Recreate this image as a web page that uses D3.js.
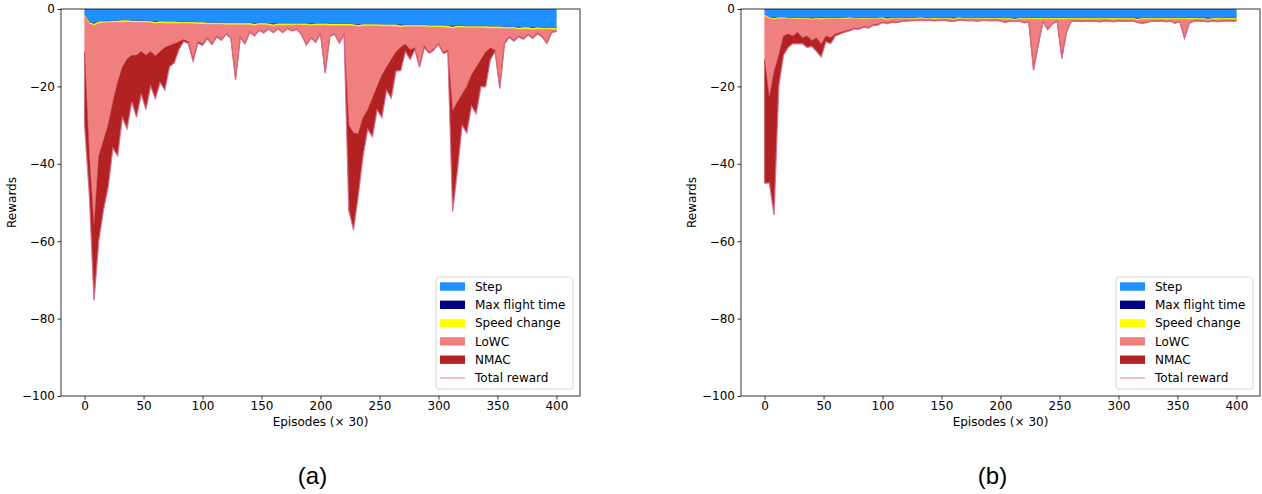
<!DOCTYPE html>
<html>
<head>
<meta charset="utf-8">
<style>
  body { margin: 0; background: #fff; }
  svg { display: block; font-family: "DejaVu Sans", sans-serif; }
</style>
</head>
<body>
<svg id="chart" width="1262" height="494"></svg>
<script src="https://cdn.jsdelivr.net/npm/d3@7"></script>
<script>
// x categories: episodes (x 30)
const episodes = [
  0, 4, 8, 12, 16, 20, 24, 28, 32, 36,
  40, 44, 48, 52, 56, 60, 64, 68, 72, 76,
  80, 84, 88, 92, 96, 100, 104, 108, 112, 116,
  120, 124, 128, 132, 136, 140, 144, 148, 152, 156,
  160, 164, 168, 172, 176, 180, 184, 188, 192, 196,
  200, 204, 208, 212, 216, 220, 224, 228, 232, 236,
  240, 244, 248, 252, 256, 260, 264, 268, 272, 276,
  280, 284, 288, 292, 296, 300, 304, 308, 312, 316,
  320, 324, 328, 332, 336, 340, 344, 348, 352, 356,
  360, 364, 368, 372, 376, 380, 384, 388, 392, 396,
  400
];

const seriesNames = ["Step", "Max flight time", "Speed change", "LoWC", "NMAC"];
const xTicks = [0, 50, 100, 150, 200, 250, 300, 350, 400];
const yTicks = [-100, -80, -60, -40, -20, 0];

// ---- panel (a) ----
const stepA = [
  -1.5, -3.4, -3.6, -3.3, -3.2, -3.2, -3.1, -3.1, -3.0, -3.0,
  -3.1, -3.1, -3.1, -3.1, -3.2, -3.2, -3.2, -3.3, -3.3, -3.3,
  -3.4, -3.4, -3.4, -3.4, -3.5, -3.5, -3.6, -3.6, -3.6, -3.6,
  -3.7, -3.7, -3.7, -3.7, -3.7, -3.7, -3.7, -3.7, -3.7, -3.8,
  -3.8, -3.8, -3.8, -3.8, -3.8, -3.8, -3.8, -3.8, -3.8, -3.8,
  -3.8, -3.8, -3.9, -3.9, -3.9, -3.9, -3.9, -4.0, -4.0, -4.0,
  -4.0, -4.0, -4.0, -4.1, -4.1, -4.1, -4.1, -4.1, -4.2, -4.2,
  -4.2, -4.2, -4.2, -4.3, -4.3, -4.3, -4.3, -4.4, -4.4, -4.4,
  -4.4, -4.5, -4.5, -4.5, -4.5, -4.5, -4.6, -4.6, -4.6, -4.7,
  -4.7, -4.7, -4.7, -4.8, -4.8, -4.8, -4.8, -4.9, -4.9, -4.9,
  -5.0
];
const maxFlightA = [
  0, 0, -0.25, 0, 0, 0, 0, 0, 0, 0,
  0, 0, 0, 0, 0, -0.2, 0, 0, 0, 0,
  0, 0, 0, 0, 0, 0, 0, 0, 0, 0,
  0, 0, 0, 0, 0, 0, -0.2, 0, 0, 0,
  -0.25, 0, 0, 0, 0, 0, 0, 0, -0.2, 0,
  0, 0, 0, 0, 0, 0, 0, 0, -0.2, 0,
  0, 0, 0, 0, 0, 0, 0, -0.2, 0, 0,
  0, 0, 0, 0, 0, 0, 0, 0, -0.25, 0,
  0, 0, 0, 0, 0, 0, 0, 0, 0, 0,
  0, 0, -0.2, 0, 0, -0.2, 0, 0, 0, 0,
  0
];
const speedA = [
  -0.3, -0.35, -0.4, -0.35, -0.35, -0.3, -0.35, -0.35, -0.4, -0.35,
  -0.35, -0.35, -0.3, -0.35, -0.35, -0.35, -0.4, -0.35, -0.35, -0.35,
  -0.35, -0.3, -0.35, -0.35, -0.35, -0.4, -0.35, -0.35, -0.35, -0.3,
  -0.35, -0.35, -0.35, -0.4, -0.35, -0.35, -0.35, -0.3, -0.35, -0.35,
  -0.35, -0.35, -0.4, -0.35, -0.35, -0.3, -0.35, -0.35, -0.35, -0.35,
  -0.4, -0.35, -0.35, -0.35, -0.3, -0.35, -0.35, -0.35, -0.35, -0.4,
  -0.35, -0.35, -0.35, -0.35, -0.3, -0.35, -0.35, -0.4, -0.35, -0.35,
  -0.35, -0.35, -0.3, -0.35, -0.35, -0.35, -0.4, -0.35, -0.35, -0.35,
  -0.35, -0.3, -0.35, -0.35, -0.35, -0.4, -0.35, -0.35, -0.35, -0.3,
  -0.35, -0.35, -0.35, -0.35, -0.4, -0.35, -0.35, -0.35, -0.3, -0.35,
  -0.35
];
const lowcA = [
  -9.2, -34.2, -52.0, -34.3, -30.4, -26.4, -20.5, -15.5, -11.6, -9.6,
  -8.5, -8.5, -7.6, -8.5, -7.4, -8.4, -7.4, -6.3, -5.8, -5.3,
  -4.7, -4.2, -4.7, -9.2, -4.6, -5.1, -3.4, -5.0, -3.0, -4.0,
  -2.3, -3.3, -13.8, -3.0, -4.8, -1.8, -2.6, -1.4, -2.0, -0.9,
  -1.6, -0.9, -1.8, -0.8, -1.4, -1.0, -2.4, -5.0, -3.0, -4.3,
  -2.0, -12.1, -2.6, -2.1, -4.5, -2.1, -25.8, -27.7, -27.7, -23.7,
  -21.7, -18.7, -15.7, -12.6, -10.6, -8.6, -6.6, -5.2, -4.5, -6.0,
  -5.5, -10.0, -5.0, -6.5, -5.7, -4.2, -6.5, -5.9, -21.3, -19.3,
  -17.3, -15.2, -12.2, -10.2, -8.2, -6.2, -5.1, -5.7, -15.1, -3.7,
  -2.0, -3.0, -1.7, -2.4, -1.3, -2.0, -1.0, -1.8, -3.5, -0.6,
  -0.3
];
const nmacA = [
  -19, -10, -19, -22, -18, -16, -12, -19, -13, -18,
  -12, -16, -11, -14, -9, -11, -8, -11, -5.5, -5,
  -2, -0.5, -0.5, -0.6, -0.4, -0.4, -0.3, -0.3, -0.3, -0.2,
  -0.2, -0.2, -0.5, -0.3, -0.2, -0.2, -0.15, -0.15, -0.15, -0.15,
  -0.15, -0.15, -0.15, -0.15, -0.15, -0.15, -0.2, -0.2, -0.2, -0.2,
  -0.2, -0.35, -0.2, -0.2, -0.2, -0.2, -22, -25, -16, -10,
  -5, -10, -6, -11, -6, -10, -5, -6, -2, -2.5,
  -0.5, -0.5, -0.5, -0.3, -0.3, -0.3, -0.3, -0.4, -26, -18,
  -8, -12, -8, -12, -7, -9, -3, -0.4, -0.5, -0.3,
  -0.3, -0.3, -0.25, -0.25, -0.25, -0.25, -0.25, -0.25, -0.25, -0.25,
  -0.15
];

// ---- panel (b) ----
const stepB = [
  -1.5, -2.2, -2.2, -2.2, -2.2, -2.3, -2.3, -2.3, -2.3, -2.3,
  -2.3, -2.3, -2.2, -2.3, -2.3, -2.3, -2.3, -2.3, -2.2, -2.3,
  -2.3, -2.3, -2.3, -2.3, -2.3, -2.2, -2.3, -2.3, -2.3, -2.3,
  -2.3, -2.3, -2.3, -2.2, -2.3, -2.3, -2.3, -2.3, -2.3, -2.3,
  -2.3, -2.2, -2.3, -2.3, -2.3, -2.3, -2.3, -2.3, -2.3, -2.3,
  -2.4, -2.4, -2.4, -2.4, -2.4, -2.4, -2.4, -2.4, -2.4, -2.4,
  -2.4, -2.4, -2.4, -2.4, -2.4, -2.4, -2.4, -2.4, -2.4, -2.4,
  -2.4, -2.4, -2.4, -2.4, -2.4, -2.4, -2.4, -2.4, -2.4, -2.4,
  -2.4, -2.4, -2.4, -2.4, -2.4, -2.4, -2.4, -2.4, -2.4, -2.4,
  -2.4, -2.4, -2.4, -2.4, -2.4, -2.4, -2.4, -2.4, -2.4, -2.4,
  -2.4
];
const maxFlightB = [
  0, 0, -0.2, 0, 0, 0, 0, 0, 0, 0,
  -0.2, 0, -0.2, 0, 0, 0, 0, 0, 0, 0,
  0, 0, 0, 0, 0, 0, -0.2, 0, 0, 0,
  0, 0, 0, 0, 0, 0, 0, 0, 0, 0,
  -0.2, 0, 0, 0, 0, 0, 0, 0, 0, 0,
  0, 0, 0, -0.2, 0, 0, 0, 0, 0, 0,
  0, 0, 0, 0, 0, 0, 0, 0, 0, 0,
  0, 0, 0, 0, 0, 0, 0, 0, 0, -0.2,
  0, 0, 0, 0, 0, 0, 0, 0, 0, 0,
  0, 0, 0, 0, -0.2, 0, 0, 0, 0, 0,
  0
];
const speedB = [
  -0.3, -0.25, -0.25, -0.3, -0.25, -0.25, -0.25, -0.3, -0.25, -0.25,
  -0.25, -0.25, -0.3, -0.25, -0.25, -0.25, -0.25, -0.3, -0.25, -0.25,
  -0.25, -0.3, -0.25, -0.25, -0.25, -0.25, -0.3, -0.25, -0.25, -0.25,
  -0.25, -0.25, -0.3, -0.25, -0.25, -0.25, -0.3, -0.25, -0.25, -0.25,
  -0.25, -0.3, -0.25, -0.25, -0.25, -0.25, -0.25, -0.3, -0.25, -0.25,
  -0.25, -0.25, -0.3, -0.25, -0.25, -0.25, -0.25, -0.25, -0.3, -0.25,
  -0.25, -0.25, -0.25, -0.3, -0.25, -0.25, -0.25, -0.25, -0.3, -0.25,
  -0.25, -0.25, -0.25, -0.25, -0.3, -0.25, -0.25, -0.25, -0.25, -0.3,
  -0.25, -0.25, -0.25, -0.25, -0.25, -0.3, -0.25, -0.25, -0.25, -0.25,
  -0.3, -0.25, -0.25, -0.25, -0.25, -0.25, -0.3, -0.25, -0.25, -0.25,
  -0.25
];
const lowcB = [
  -11.2, -20.5, -13.5, -9.5, -4.5, -3.9, -4.4, -3.4, -4.9, -4.4,
  -5.4, -4.9, -6.4, -4.4, -4.9, -3.9, -3.5, -3.1, -2.9, -2.4,
  -2.5, -1.9, -2.2, -1.5, -1.4, -0.9, -0.8, -0.7, -0.8, -0.6,
  -0.5, -0.4, -0.3, -0.45, -0.35, -0.3, -0.4, -0.35, -0.3, -0.45,
  -0.4, -0.35, -0.3, -0.4, -0.35, -0.5, -0.35, -0.3, -0.4, -0.35,
  -0.35, -0.75, -0.35, -0.3, -0.4, -0.85, -0.65, -12.7, -6.4, -0.55,
  -2.6, -1.15, -0.45, -9.6, -3.15, -0.45, -0.4, -0.5, -0.35, -0.45,
  -0.4, -0.6, -0.35, -0.4, -0.5, -0.35, -0.45, -0.4, -0.35, -0.5,
  -0.95, -0.75, -0.4, -0.45, -0.35, -0.5, -0.4, -0.95, -0.5, -4.75,
  -0.95, -0.4, -0.35, -0.45, -0.4, -0.35, -0.5, -0.4, -0.35, -0.4,
  -0.35
];
const nmacB = [
  -32, -22, -37, -8, -5, -3.5, -2, -3, -1.5, -3,
  -1.5, -3.5, -3.3, -1.5, -1.5, -0.5, -0.4, -0.3, -0.3, -0.2,
  -0.2, -0.2, -0.2, -0.2, -0.2, -0.2, -0.2, -0.2, -0.2, -0.1,
  -0.1, -0.1, -0.1, -0.1, -0.1, -0.1, -0.1, -0.1, -0.1, -0.1,
  -0.1, -0.1, -0.1, -0.1, -0.1, -0.1, -0.1, -0.1, -0.1, -0.1,
  -0.1, -0.1, -0.1, -0.1, -0.1, -0.1, -0.1, -0.5, -0.3, -0.1,
  -0.1, -0.1, -0.1, -0.5, -0.2, -0.1, -0.1, -0.1, -0.1, -0.1,
  -0.1, -0.1, -0.1, -0.1, -0.1, -0.1, -0.1, -0.1, -0.1, -0.1,
  -0.1, -0.1, -0.1, -0.1, -0.1, -0.1, -0.1, -0.1, -0.1, -0.2,
  -0.1, -0.1, -0.1, -0.1, -0.1, -0.1, -0.1, -0.1, -0.1, -0.1,
  -0.1
];

const colors = ["#1e90ff", "#000080", "#ffff00", "#f08080", "#b22222"];
const totalColor = "#db7093";

const panels = [
  { label: "(a)", left: 61, series: [stepA, maxFlightA, speedA, lowcA, nmacA] },
  { label: "(b)", left: 741, series: [stepB, maxFlightB, speedB, lowcB, nmacB] }
];

const svg = d3.select("#chart");
const plotTop = 9, plotBottom = 396, plotW = 519;
const font = "DejaVu Sans, sans-serif";

panels.forEach(function(p, pi) {
  var x = d3.scaleLinear().domain([-20, 420]).range([p.left, p.left + plotW]);
  var y = d3.scaleLinear().domain([-100, 0]).range([plotBottom, plotTop]);

  var rows = episodes.map(function(ep, i) {
    var r = { ep: ep };
    seriesNames.forEach(function(k, j) { r[k] = p.series[j][i]; });
    return r;
  });

  var stacked = d3.stack().keys(seriesNames).offset(d3.stackOffsetNone)(rows);

  svg.append("clipPath").attr("id", "clip" + pi)
    .append("rect")
    .attr("x", p.left).attr("y", plotTop)
    .attr("width", plotW).attr("height", plotBottom - plotTop);

  var g = svg.append("g").attr("clip-path", "url(#clip" + pi + ")");

  var area = d3.area()
    .x(function(d) { return x(d.data.ep); })
    .y0(function(d) { return y(d[0]); })
    .y1(function(d) { return y(d[1]); });

  g.selectAll("path.layer")
    .data(stacked)
    .enter()
    .append("path")
    .attr("class", "layer")
    .attr("fill", function(d, i) { return colors[i]; })
    .attr("stroke", function(d, i) { return colors[i]; })
    .attr("stroke-width", 0.4)
    .attr("d", area);

  var line = d3.line()
    .x(function(d) { return x(d.ep); })
    .y(function(d) { return y(d3.sum(seriesNames, function(k) { return d[k]; })); });

  g.append("path")
    .datum(rows)
    .attr("fill", "none")
    .attr("stroke", totalColor)
    .attr("stroke-opacity", 0.8)
    .attr("stroke-width", 1.2)
    .attr("d", line);

  // axes
  var xAxis = svg.append("g")
    .attr("transform", "translate(0," + plotBottom + ")")
    .call(d3.axisBottom(x).tickValues(xTicks).tickSize(3.5).tickPadding(2).tickSizeOuter(0));
  var yAxis = svg.append("g")
    .attr("transform", "translate(" + p.left + ",0)")
    .call(d3.axisLeft(y).tickValues(yTicks).tickSize(3.5).tickPadding(2.5).tickSizeOuter(0));
  [xAxis, yAxis].forEach(function(a) {
    a.select(".domain").remove();
    a.attr("font-size", 12).attr("font-family", font);
    a.selectAll("line").attr("stroke", "#000").attr("stroke-width", 0.8);
  });

  svg.append("rect")
    .attr("x", p.left).attr("y", plotTop)
    .attr("width", plotW).attr("height", plotBottom - plotTop)
    .attr("fill", "none").attr("stroke", "#000").attr("stroke-width", 0.8);

  svg.append("text")
    .attr("x", p.left + plotW / 2).attr("y", 426)
    .attr("text-anchor", "middle")
    .attr("font-size", 12).attr("font-family", font)
    .text("Episodes (\u00d7 30)");

  svg.append("text")
    .attr("transform", "translate(" + (p.left - 45) + "," + ((plotTop + plotBottom) / 2) + ") rotate(-90)")
    .attr("text-anchor", "middle")
    .attr("font-size", 12).attr("font-family", font)
    .text("Rewards");

  svg.append("text")
    .attr("x", p.left + plotW / 2 - 8).attr("y", 484)
    .attr("text-anchor", "middle")
    .attr("font-size", 24).attr("font-family", "Liberation Sans, Arial, sans-serif")
    .text(p.label);

  // legend
  var lx = p.left + plotW - 144, ly = 277;
  var leg = svg.append("g").attr("font-size", 12).attr("font-family", font);
  leg.append("rect")
    .attr("x", lx).attr("y", ly).attr("width", 137).attr("height", 112)
    .attr("rx", 3).attr("fill", "#fff").attr("fill-opacity", 0.8)
    .attr("stroke", "#ccc").attr("stroke-width", 0.8);
  var items = seriesNames.concat(["Total reward"]);
  items.forEach(function(name, i) {
    var cy = ly + 9.5 + i * 18.3;
    if (i < seriesNames.length) {
      leg.append("rect")
        .attr("x", lx + 4).attr("y", cy - 4.2)
        .attr("width", 25).attr("height", 8.4)
        .attr("fill", colors[i]);
    } else {
      leg.append("line")
        .attr("x1", lx + 4).attr("x2", lx + 29)
        .attr("y1", cy).attr("y2", cy)
        .attr("stroke", totalColor).attr("stroke-opacity", 0.6)
        .attr("stroke-width", 1.5);
    }
    leg.append("text")
      .attr("x", lx + 39).attr("y", cy).attr("dy", "0.35em")
      .text(name);
  });
});
</script>
</body>
</html>
